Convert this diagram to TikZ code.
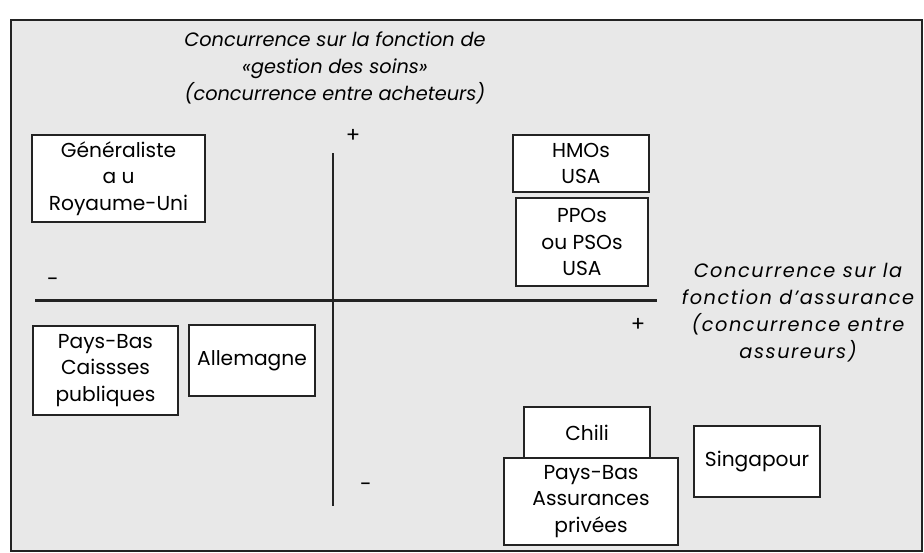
\documentclass[tikz,border=0pt]{standalone}
\usepackage{fontspec}
\setmainfont{Poppins}
\usetikzlibrary{positioning}
\definecolor{Paper}{RGB}{232,232,232}
\definecolor{Ink}{RGB}{35,35,35}
\tikzset{
  country/.style={draw=Ink,line width=1.1pt,fill=white,align=center,inner sep=2pt,font=\fontsize{11.5}{15}\selectfont},
  smallbox/.style={country,minimum width=2.52cm,minimum height=1.42cm},
  axis/.style={draw=Ink,line width=1.7pt},
  sign/.style={inner sep=0pt,font=\fontsize{12}{12}\selectfont},
  axislabel/.style={align=center,font=\fontsize{11}{15.4}\selectfont\itshape}
}

\begin{document}
\begin{tikzpicture}[x=0.02cm,y=-0.02cm]
\useasboundingbox (0,0) rectangle (924,552);
\fill[white] (0,0) rectangle (924,552);
\draw[Ink,line width=0.9pt,fill=Paper] (11,20) rectangle (922,551);
% axes
\coordinate (vtop) at (333,153);
\coordinate (vbot) at (333,506);
\coordinate (hleft) at (35,300);
\coordinate (hright) at (657,300);
\draw[axis] (vtop) -- (vbot);
\draw[axis] (hleft) -- (hright);
% axis titles
\node[axislabel] (soins) at (335,68) {Concurrence sur la fonction de\\\guillemotleft gestion des soins\guillemotright\\(concurrence entre acheteurs)};
\node[axislabel,font=\fontsize{11}{15.4}\selectfont\itshape\addfontfeatures{LetterSpace=8}] (assur) at (798,313) {Concurrence sur la\\fonction d’assurance\\(concurrence entre\\assureurs)};
\node[sign] (plustop) at (353,136) {+};
\node[sign] (minleft) at (53,282) {-};
\node[sign] (plusright) at (638,325) {+};
\node[sign] (minbot) at (366,487) {-};
% countries
\node[country,minimum width=3.46cm,minimum height=1.74cm] (gen) at (118.5,178.5) {Généraliste\\a u\\Royaume-Uni};
\node[country,minimum width=2.72cm,minimum height=1.14cm] (hmo) at (581,163.5) {HMOs\\USA};
\node[country,minimum width=2.64cm,minimum height=1.76cm] (ppo) at (582,242) {PPOs\\ou PSOs\\USA};
\node[country,minimum width=2.90cm,minimum height=1.78cm] (caisses) at (105.5,370.5) {Pays-Bas\\Caissses\\publiques};
\node[smallbox] (allem) at (252,360.5) {Allemagne};
\node[smallbox,minimum height=1.02cm] (chili) at (587,432.5) {Chili};
\node[country,minimum width=3.48cm,minimum height=1.74cm] (pbpriv) at (591,501.5) {Pays-Bas\\Assurances\\privées};
\node[smallbox] (singa) at (757,461.5) {Singapour};
\end{tikzpicture}
\end{document}
